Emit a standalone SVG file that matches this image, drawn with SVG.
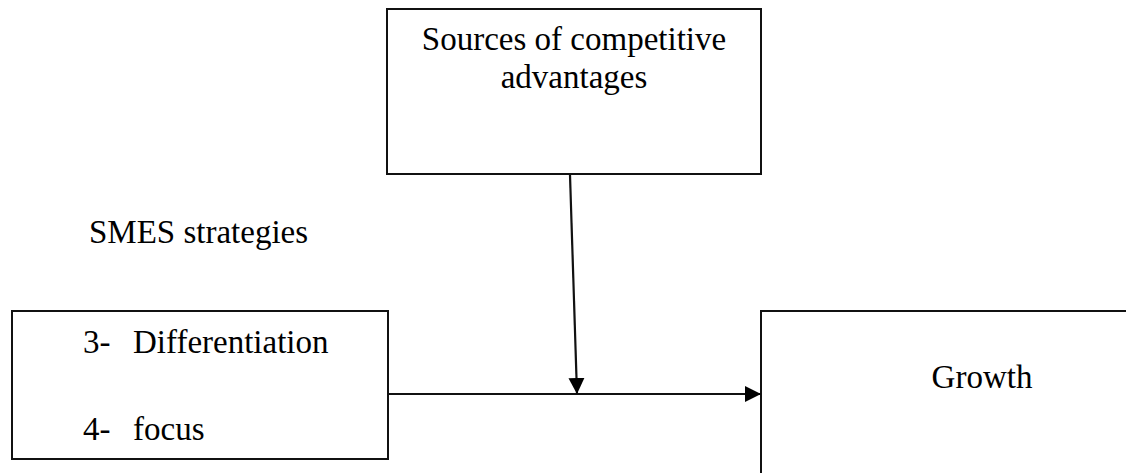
<svg xmlns="http://www.w3.org/2000/svg" width="1126" height="473" viewBox="0 0 1126 473">
<defs>
<style>
.box{fill:#fff;stroke:#111;stroke-width:2}
.t{font-family:'Liberation Serif',Tinos,'Times New Roman',Times,serif;font-size:33px;fill:#000}
.c{stroke:#111;stroke-width:2.2;fill:none}
</style>
<marker id="ah" markerUnits="userSpaceOnUse" markerWidth="17" markerHeight="16" refX="16" refY="8" orient="auto">
<path d="M0,0 L16,8 L0,16 Z" fill="#000"/>
</marker>
</defs>
<rect width="1126" height="473" fill="#fff"/>
<g id="sources">
<rect class="box" x="387" y="9" width="374" height="165"/>
<text class="t" font-family="Liberation Serif, serif" x="574" y="50" text-anchor="middle">Sources of competitive</text>
<text class="t" font-family="Liberation Serif, serif" x="574" y="88" text-anchor="middle">advantages</text>
</g>
<g id="label-smes">
<text class="t" font-family="Liberation Serif, serif" x="89" y="243">SMES strategies</text>
</g>
<g id="strategies">
<rect class="box" x="12" y="311" width="376" height="148"/>
<text class="t" font-family="Liberation Serif, serif" x="83" y="353">3-</text>
<text class="t" font-family="Liberation Serif, serif" x="133" y="353">Differentiation</text>
<text class="t" font-family="Liberation Serif, serif" x="83" y="440">4-</text>
<text class="t" font-family="Liberation Serif, serif" x="133" y="440">focus</text>
</g>
<g id="growth">
<rect class="box" x="761" y="311" width="380" height="180"/>
<text class="t" font-family="Liberation Serif, serif" x="982" y="388" text-anchor="middle">Growth</text>
</g>
<g id="connectors">
<line class="c" x1="388" y1="394" x2="761" y2="394" marker-end="url(#ah)"/>
<line class="c" x1="570" y1="175" x2="577" y2="394" marker-end="url(#ah)"/>
</g>
</svg>
